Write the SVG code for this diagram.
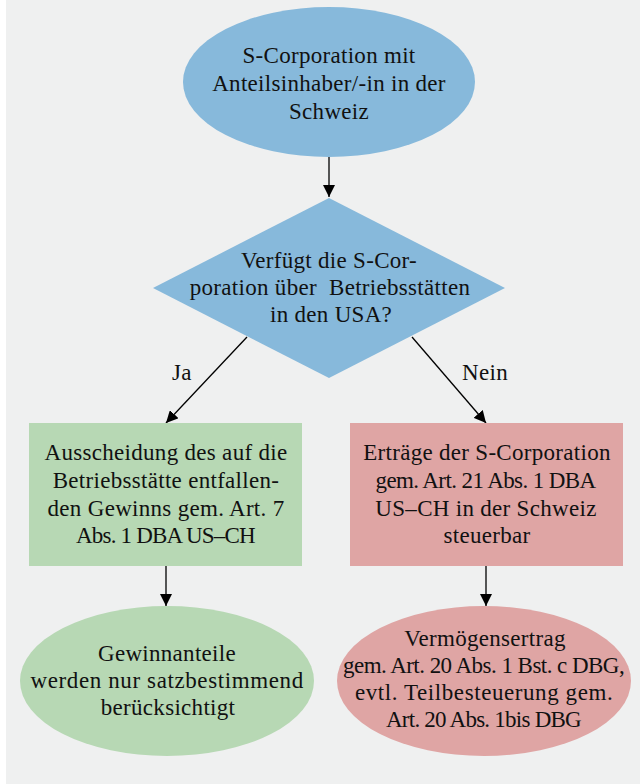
<svg xmlns="http://www.w3.org/2000/svg" width="640" height="784" viewBox="0 0 640 784">
<defs>
<style>
.t{font-family:"Liberation Serif","Times New Roman",serif;font-size:23px;fill:#111;text-anchor:middle;letter-spacing:0.3px}
.c{stroke:#000;stroke-width:1.3;fill:none}
</style>
<marker id="ah" markerUnits="userSpaceOnUse" markerWidth="12" markerHeight="12" refX="12" refY="6" orient="auto" viewBox="0 0 12 12">
<path d="M0,0 L12,6 L0,12 z" fill="#000"/>
</marker>
</defs>
<rect x="0" y="0" width="640" height="784" fill="#ffffff"/>
<rect x="6" y="0" width="634" height="784" fill="#eff0f0"/>
<g id="connectors">
<line class="c" x1="329" y1="157" x2="329" y2="197" marker-end="url(#ah)"/>
<line class="c" x1="247" y1="337" x2="166" y2="423" marker-end="url(#ah)"/>
<line class="c" x1="412" y1="337" x2="486" y2="423" marker-end="url(#ah)"/>
<line class="c" x1="166" y1="566" x2="166" y2="606" marker-end="url(#ah)"/>
<line class="c" x1="486" y1="566" x2="486" y2="606" marker-end="url(#ah)"/>
<text class="t" x="182" y="380">Ja</text>
<text class="t" x="485" y="380">Nein</text>
</g>
<g id="start">
<ellipse cx="329" cy="82" rx="146" ry="75" fill="#87b9db"/>
<text class="t" x="329" y="63">S-Corporation mit</text>
<text class="t" x="329" y="91">Anteilsinhaber/-in in der</text>
<text class="t" x="329" y="119">Schweiz</text>
</g>
<g id="decision">
<polygon points="329,198 505,288 329,378 153,288" fill="#87b9db"/>
<text class="t" x="329" y="268">Verfügt die S-Cor-</text>
<text class="t" x="330" y="295" xml:space="preserve">poration über  Betriebsstätten</text>
<text class="t" x="331" y="322">in den USA?</text>
</g>
<g id="ja-box">
<rect x="29" y="423" width="273" height="143" fill="#b7d8b4"/>
<text class="t" x="166" y="460">Ausscheidung des auf die</text>
<text class="t" x="166" y="488">Betriebsstätte entfallen-</text>
<text class="t" x="166" y="516">den Gewinns gem. Art. 7</text>
<text class="t" x="166" y="543" textLength="180" lengthAdjust="spacing">Abs. 1 DBA US–CH</text>
</g>
<g id="nein-box">
<rect x="350" y="423" width="273" height="143" fill="#dfa5a4"/>
<text class="t" x="487" y="460">Erträge der S-Corporation</text>
<text class="t" x="486" y="488" textLength="221" lengthAdjust="spacing">gem. Art. 21 Abs. 1 DBA</text>
<text class="t" x="486" y="516">US–CH in der Schweiz</text>
<text class="t" x="487" y="543">steuerbar</text>
</g>
<g id="ja-end">
<ellipse cx="167" cy="681" rx="147" ry="75" fill="#b7d8b4"/>
<text class="t" x="167" y="661">Gewinnanteile</text>
<text class="t" x="167" y="688" textLength="273" lengthAdjust="spacing">werden nur satzbestimmend</text>
<text class="t" x="168" y="715">berücksichtigt</text>
</g>
<g id="nein-end">
<ellipse cx="484" cy="681" rx="147" ry="75" fill="#dfa5a4"/>
<text class="t" x="485" y="646">Vermögensertrag</text>
<text class="t" x="484" y="673" textLength="282" lengthAdjust="spacing">gem. Art. 20 Abs. 1 Bst. c DBG,</text>
<text class="t" x="484" y="700" textLength="258" lengthAdjust="spacing">evtl. Teilbesteuerung gem.</text>
<text class="t" x="484" y="727" textLength="196" lengthAdjust="spacing">Art. 20 Abs. 1bis DBG</text>
</g>
</svg>
